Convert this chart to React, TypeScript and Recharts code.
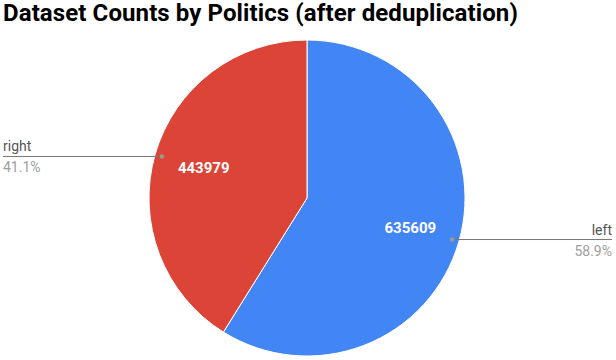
import React from "react";
import { PieChart, Pie, Cell } from "recharts";

const categories = ["left", "right"];
const counts = [635609, 443979];
const percentLabels = ["58.9%", "41.1%"];
const colors = ["#4285F4", "#DB4437"];

const chartData = categories.map((name, i) => ({
  name,
  value: counts[i],
  pct: percentLabels[i],
}));

const RADIAN = Math.PI / 180;
const WIDTH = 616;
const HEIGHT = 360;

function renderLabel(props: any) {
  const { cx, cy, midAngle, outerRadius, index } = props;
  const entry = chartData[index];
  const cos = Math.cos(-midAngle * RADIAN);
  const sin = Math.sin(-midAngle * RADIAN);
  const inR = outerRadius * 0.68;
  const dotR = outerRadius * 0.955;
  const ix = cx + inR * cos;
  const iy = cy + inR * sin;
  const dx = cx + dotR * cos;
  const dy = cy + dotR * sin;
  const onRight = cos >= 0;
  const endX = onRight ? WIDTH - 4 : 3;
  const anchor = onRight ? "end" : "start";
  return (
    <g>
      <text
        x={ix}
        y={iy}
        fill="#ffffff"
        fontSize={15}
        fontWeight="bold"
        textAnchor="middle"
        dominantBaseline="central"
        fontFamily="Roboto, sans-serif"
      >
        {entry.value}
      </text>
      <line x1={dx} y1={dy} x2={endX} y2={dy} stroke="#777777" strokeWidth={1} />
      <circle cx={dx} cy={dy} r={2.2} fill="#999999" />
      <text
        x={endX}
        y={dy - 5}
        fill="#555555"
        fontSize={14}
        textAnchor={anchor}
        fontFamily="Roboto, sans-serif"
      >
        {entry.name}
      </text>
      <text
        x={endX}
        y={dy + 16}
        fill="#9e9e9e"
        fontSize={14}
        textAnchor={anchor}
        fontFamily="Roboto, sans-serif"
      >
        {entry.pct}
      </text>
    </g>
  );
}

export default function App() {
  return (
    <div
      style={{
        position: "absolute",
        left: 0,
        top: 0,
        width: WIDTH,
        height: HEIGHT,
        background: "#ffffff",
        fontFamily: "Roboto, sans-serif",
      }}
    >
      <div
        style={{
          position: "absolute",
          left: 3,
          top: 0,
          fontSize: 24,
          letterSpacing: 0.1,
          fontWeight: "bold",
          color: "#000000",
          whiteSpace: "nowrap",
          lineHeight: "26px",
        }}
      >
        Dataset Counts by Politics (after deduplication)
      </div>
      <PieChart
        width={WIDTH}
        height={HEIGHT}
        margin={{ top: 0, right: 0, bottom: 0, left: 0 }}
      >
        <Pie
          data={chartData}
          dataKey="value"
          nameKey="name"
          cx={307}
          cy={198}
          outerRadius={158}
          startAngle={90}
          endAngle={-270}
          stroke="#ffffff"
          strokeWidth={1}
          label={renderLabel}
          labelLine={false}
          isAnimationActive={false}
        >
          {chartData.map((entry, i) => (
            <Cell key={entry.name} fill={colors[i]} />
          ))}
        </Pie>
      </PieChart>
    </div>
  );
}
